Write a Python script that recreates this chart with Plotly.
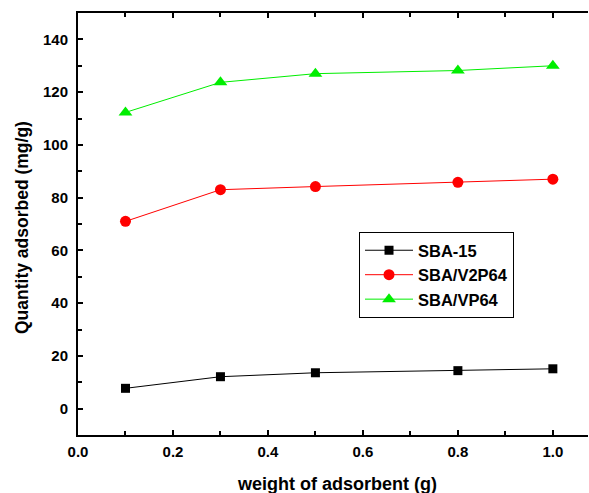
import plotly.graph_objects as go

weights = [0.1, 0.3, 0.5, 0.8, 1.0]
sba15 = [7.7, 12.1, 13.6, 14.4, 15.1]
sba_v2p64 = [71.0, 83.0, 84.2, 85.8, 87.0]
sba_vp64 = [112.3, 123.7, 127.0, 128.2, 130.0]

names = ["SBA-15", "SBA/V2P64", "SBA/VP64"]
colors = ["#000000", "#ff0000", "#00ee00"]
symbols = ["square", "circle", "triangle-up"]
sizes = [9, 11, 12]

fig = go.Figure()
for ys, n, c, s, sz in zip([sba15, sba_v2p64, sba_vp64], names, colors, symbols, sizes):
    fig.add_trace(go.Scatter(x=weights, y=ys, name=n, mode="lines+markers",
                             line=dict(color=c, width=1),
                             marker=dict(symbol=s, size=sz, color=c)))

FAM = "Liberation Sans, Arial, sans-serif"
fig.update_layout(
    width=589, height=493,
    margin=dict(l=78, r=1, t=13, b=58),
    paper_bgcolor="white", plot_bgcolor="white",
    font=dict(family=FAM, size=15, color="black"),
    showlegend=True,
    legend=dict(x=0.551, y=0.481, xanchor="left", yanchor="top",
                bordercolor="black", borderwidth=1, bgcolor="white",
                font=dict(family=FAM, size=16.5, color="black", weight="bold"),
                itemwidth=48, tracegroupgap=0),
    annotations=[
        dict(text="weight of adsorbent (g)", xref="paper", yref="paper",
             x=(337 - 78) / 510, y=-(484 - 435) / 422, xanchor="center", yanchor="middle",
             showarrow=False, font=dict(family=FAM, size=18, weight="bold")),
        dict(text="Quantity adsorbed (mg/g)", xref="paper", yref="paper",
             x=-(78 - 22) / 510, y=(435 - 228) / 422, xanchor="center", yanchor="middle",
             textangle=-90, showarrow=False, font=dict(family=FAM, size=17.5, weight="bold")),
    ],
)
fig.update_xaxes(range=[0, 1.074], tickvals=[0.0, 0.2, 0.4, 0.6, 0.8, 1.0],
                 ticktext=["0.0", "0.2", "0.4", "0.6", "0.8", "1.0"],
                 ticks="inside", ticklen=5, tickwidth=1.5, tickcolor="black",
                 minor=dict(ticks="inside", ticklen=4, tickvals=[0.1, 0.3, 0.5, 0.7, 0.9], tickcolor="black"),
                 showline=True, linecolor="black", linewidth=2, mirror="allticks",
                 showgrid=False, zeroline=False, automargin=False, ticklabelstandoff=2,
                 tickfont=dict(size=15, weight="bold"))
fig.update_yaxes(range=[-10, 150], tickvals=[0, 20, 40, 60, 80, 100, 120, 140],
                 ticks="inside", ticklen=5, tickwidth=1.5, tickcolor="black",
                 minor=dict(ticks="inside", ticklen=4, tickvals=[-10, 10, 30, 50, 70, 90, 110, 130, 150], tickcolor="black"),
                 showline=True, linecolor="black", linewidth=2, mirror=False,
                 showgrid=False, zeroline=False, automargin=False, ticklabelstandoff=5,
                 tickfont=dict(size=15, weight="bold"))

fig.write_html("out.html", config={"displayModeBar": False},
               post_script="document.body.style.margin='0';document.body.style.overflow='hidden';")
